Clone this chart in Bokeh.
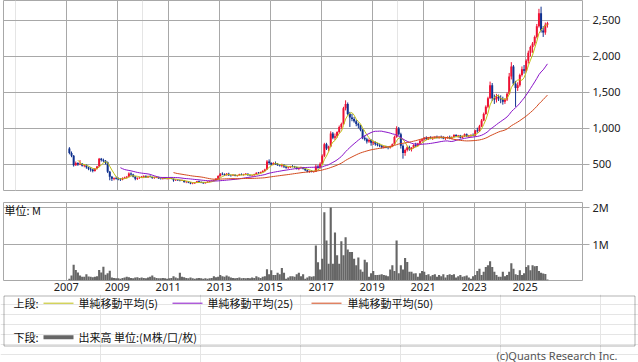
import numpy as np
import pandas as pd
from bokeh.plotting import figure
from bokeh.models import Range1d, FixedTicker, Grid, NumeralTickFormatter, Label, BoxAnnotation
from bokeh.layouts import column
from bokeh.core.properties import value
from bokeh.embed import file_html
from bokeh.resources import INLINE

# ---------------- data (monthly, Feb 2007 .. Nov 2025) ----------------
first_month = "2007-02-01"
year_ticks = [2007, 2009, 2011, 2013, 2015, 2017, 2019, 2021, 2023, 2025]
price_ticks = [500, 1000, 1500, 2000, 2500]
volume_ticks = [1, 2]
volume_tick_labels = {1: "1M", 2: "2M"}

open_ = [
    720, 660, 620, 490, 520, 500, 510, 480, 490, 460, 440,
    430, 410, 440, 470, 580, 560, 550, 530, 400, 330, 300, 310,
    300, 295, 290, 310, 320, 330, 375, 360, 330, 300, 310, 320,
    330, 340, 320, 335, 325, 310, 320, 325, 305, 300, 310, 300,
    305, 310, 300, 280, 285, 280, 275, 280, 255, 260, 250, 235,
    240, 250, 265, 255, 250, 240, 250, 260, 270, 275, 285, 300,
    340, 370, 365, 350, 370, 350, 345, 355, 340, 350, 365, 355,
    360, 370, 350, 345, 350, 365, 385, 380, 395, 410, 430, 540,
    520, 500, 520, 505, 490, 480, 495, 470, 455, 460, 475, 470,
    465, 445, 450, 460, 440, 420, 400, 410, 395, 400, 470, 450,
    510, 620, 780, 720, 750, 930, 870, 890, 950, 1020, 1060, 1280,
    1340, 1200, 1150, 1130, 1100, 1060, 1040, 980, 870, 850, 820, 840,
    800, 810, 780, 770, 760, 740, 750, 735, 730, 750, 780, 880,
    1000, 920, 760, 660, 700, 740, 710, 730, 770, 760, 790, 830,
    850, 870, 850, 870, 860, 870, 880, 870, 880, 870, 860, 870,
    880, 860, 880, 910, 890, 900, 870, 890, 920, 890, 900, 910,
    900, 970, 960, 1030, 1110, 1200, 1300, 1420, 1600, 1420, 1400, 1440,
    1420, 1400, 1370, 1400, 1480, 1720, 1860, 1620, 1560, 1600, 1740, 1820,
    1800, 1940, 2050, 2130, 2180, 2270, 2420, 2600, 2360, 2330, 2440,
]
high = [
    740, 680, 630, 540, 530, 560, 520, 500, 500, 470, 460,
    440, 450, 480, 590, 590, 580, 560, 540, 410, 340, 320, 330,
    320, 310, 320, 330, 340, 390, 390, 370, 340, 320, 330, 340,
    350, 350, 345, 350, 330, 330, 335, 330, 315, 315, 325, 315,
    320, 320, 305, 295, 295, 290, 290, 285, 270, 265, 255, 250,
    255, 270, 275, 265, 255, 255, 265, 275, 280, 290, 310, 350,
    380, 390, 375, 380, 385, 360, 365, 360, 355, 370, 375, 370,
    380, 375, 360, 355, 370, 390, 395, 400, 420, 440, 560, 570,
    530, 530, 540, 520, 505, 510, 500, 480, 470, 480, 490, 480,
    470, 460, 470, 465, 450, 430, 415, 420, 410, 500, 490, 530,
    640, 800, 800, 760, 960, 950, 930, 960, 1040, 1080, 1300, 1390,
    1360, 1230, 1200, 1160, 1120, 1080, 1050, 990, 900, 870, 860, 850,
    830, 820, 800, 790, 770, 760, 760, 750, 760, 790, 900, 1030,
    1020, 940, 780, 720, 760, 760, 740, 780, 800, 800, 840, 860,
    880, 890, 880, 890, 880, 890, 900, 890, 900, 890, 880, 890,
    900, 890, 920, 920, 910, 910, 900, 930, 930, 910, 920, 930,
    980, 1010, 1050, 1130, 1220, 1320, 1440, 1650, 1630, 1470, 1480, 1470,
    1460, 1440, 1420, 1500, 1770, 1920, 1880, 1660, 1640, 1760, 1860, 1880,
    1960, 2080, 2150, 2200, 2290, 2450, 2660, 2690, 2420, 2470, 2480,
]
low = [
    640, 600, 470, 480, 480, 490, 470, 460, 440, 420, 400,
    390, 400, 430, 460, 540, 530, 500, 380, 280, 270, 280, 290,
    280, 270, 280, 300, 305, 320, 340, 320, 280, 285, 300, 310,
    310, 315, 315, 320, 300, 300, 310, 300, 290, 290, 295, 290,
    295, 295, 260, 270, 270, 265, 270, 245, 240, 240, 225, 225,
    230, 245, 250, 240, 230, 235, 245, 250, 260, 265, 280, 295,
    330, 350, 340, 345, 340, 330, 340, 335, 330, 345, 350, 345,
    350, 345, 335, 330, 345, 360, 370, 375, 385, 400, 425, 500,
    490, 490, 495, 480, 470, 460, 450, 440, 440, 450, 460, 450,
    430, 420, 440, 430, 410, 390, 385, 390, 385, 395, 440, 440,
    500, 600, 700, 680, 740, 850, 840, 870, 930, 990, 1050, 1250,
    1180, 1020, 1100, 1080, 1030, 1000, 960, 850, 830, 790, 800, 760,
    770, 760, 750, 740, 720, 720, 725, 710, 720, 740, 770, 870,
    900, 720, 580, 620, 680, 690, 680, 720, 740, 750, 780, 810,
    830, 840, 840, 850, 840, 855, 860, 855, 860, 850, 840, 855,
    850, 850, 870, 880, 870, 860, 860, 880, 880, 870, 880, 890,
    890, 940, 950, 1020, 1100, 1190, 1280, 1410, 1380, 1340, 1360, 1380,
    1350, 1330, 1340, 1380, 1470, 1680, 1600, 1300, 1520, 1580, 1720, 1760,
    1780, 1900, 2000, 2050, 2150, 2250, 2400, 2330, 2270, 2300, 2400,
]
close = [
    660, 620, 490, 520, 500, 510, 480, 490, 460, 440, 430,
    410, 440, 470, 580, 560, 550, 530, 400, 330, 300, 310, 300,
    295, 290, 310, 320, 330, 375, 360, 330, 300, 310, 320, 330,
    340, 320, 335, 325, 310, 320, 325, 305, 300, 310, 300, 305,
    310, 300, 280, 285, 280, 275, 280, 255, 260, 250, 235, 240,
    250, 265, 255, 250, 240, 250, 260, 270, 275, 285, 300, 340,
    370, 365, 350, 370, 350, 345, 355, 340, 350, 365, 355, 360,
    370, 350, 345, 350, 365, 385, 380, 395, 410, 430, 540, 520,
    500, 520, 505, 490, 480, 495, 470, 455, 460, 475, 470, 465,
    445, 450, 460, 440, 420, 400, 410, 395, 400, 470, 450, 510,
    620, 780, 720, 750, 930, 870, 890, 950, 1020, 1060, 1280, 1340,
    1200, 1150, 1130, 1100, 1060, 1040, 980, 870, 850, 820, 840, 800,
    810, 780, 770, 760, 740, 750, 735, 730, 750, 780, 880, 1000,
    920, 760, 660, 700, 740, 710, 730, 770, 760, 790, 830, 850,
    870, 850, 870, 860, 870, 880, 870, 880, 870, 860, 870, 880,
    860, 880, 910, 890, 900, 870, 890, 920, 890, 900, 910, 900,
    970, 960, 1030, 1110, 1200, 1300, 1420, 1600, 1420, 1400, 1440, 1420,
    1400, 1370, 1400, 1480, 1720, 1860, 1620, 1560, 1600, 1740, 1820, 1800,
    1940, 2050, 2130, 2180, 2270, 2420, 2600, 2360, 2330, 2440, 2460,
]
volume_m = [
    0.05, 0.14, 0.43, 0.29, 0.22, 0.14, 0.10, 0.10, 0.17, 0.11, 0.10,
    0.09, 0.10, 0.12, 0.29, 0.22, 0.38, 0.16, 0.20, 0.27, 0.08, 0.07, 0.06,
    0.06, 0.05, 0.07, 0.08, 0.10, 0.09, 0.07, 0.06, 0.08, 0.09, 0.07, 0.08,
    0.07, 0.06, 0.08, 0.10, 0.14, 0.09, 0.07, 0.06, 0.06, 0.07, 0.06, 0.05,
    0.06, 0.07, 0.12, 0.08, 0.06, 0.21, 0.10, 0.09, 0.07, 0.06, 0.08, 0.06,
    0.05, 0.06, 0.07, 0.06, 0.05, 0.06, 0.05, 0.06, 0.07, 0.12, 0.09, 0.10,
    0.15, 0.12, 0.10, 0.14, 0.11, 0.08, 0.07, 0.06, 0.07, 0.08, 0.06, 0.07,
    0.06, 0.07, 0.06, 0.08, 0.07, 0.12, 0.09, 0.07, 0.10, 0.12, 0.31, 0.17,
    0.28, 0.15, 0.15, 0.21, 0.17, 0.34, 0.21, 0.05, 0.08, 0.12, 0.12, 0.10,
    0.17, 0.21, 0.12, 0.17, 0.05, 0.08, 0.12, 0.10, 0.12, 0.96, 0.50, 0.30,
    0.60, 1.87, 1.10, 0.46, 2.00, 0.46, 1.32, 0.69, 0.46, 1.08, 0.69, 1.19,
    0.85, 0.78, 0.78, 0.60, 0.42, 0.63, 0.30, 0.24, 0.57, 0.50, 0.10, 0.20,
    0.26, 0.15, 0.15, 0.16, 0.17, 0.15, 0.14, 0.12, 0.30, 0.42, 0.26, 1.10,
    0.20, 0.42, 0.30, 0.62, 0.51, 0.24, 0.24, 0.19, 0.20, 0.10, 0.20, 0.26,
    0.24, 0.15, 0.17, 0.12, 0.15, 0.17, 0.10, 0.15, 0.12, 0.17, 0.08, 0.15,
    0.17, 0.15, 0.17, 0.08, 0.12, 0.15, 0.10, 0.12, 0.14, 0.08, 0.05, 0.12,
    0.15, 0.26, 0.32, 0.15, 0.24, 0.37, 0.42, 0.53, 0.37, 0.24, 0.15, 0.10,
    0.10, 0.24, 0.12, 0.15, 0.24, 0.47, 0.32, 0.17, 0.15, 0.28, 0.15, 0.20,
    0.37, 0.42, 0.28, 0.42, 0.39, 0.40, 0.26, 0.21, 0.19, 0.18, 0.03,
]
ma_periods = [5, 25, 50]

n = len(close)
assert len(open_) == n and len(high) == n and len(low) == n and len(volume_m) == n

# ---------------- derived ----------------
months = pd.date_range(first_month, periods=n, freq="MS")
t = np.asarray(months.year + (months.month - 0.5) / 12.0, dtype=float)
o = np.array(open_, float)
c = np.array(close, float)
UP, DOWN = "#ee1133", "#10318f"
colors = [UP if cc >= oo else DOWN for oo, cc in zip(o, c)]
ma = {k: pd.Series(c).rolling(k).mean().to_numpy() for k in ma_periods}
ma_colors = {5: "#bfbf14", 25: "#8a14c8", 50: "#d24a1e"}

GRID = "#a8a8a8"
FONT = "Noto Sans"
JFONT = "Noto Sans CJK JP"
xr = Range1d(2004.54, 2027.25)
LB, RB = 3, 56

# ---------------- price ----------------
p1 = figure(width=638, height=191, x_range=xr, y_range=Range1d(138, 2776),
            output_backend="svg", toolbar_location=None,
            x_axis_location=None, y_axis_location="right",
            min_border_left=LB, min_border_right=RB, min_border_top=0, min_border_bottom=1)
p1.outline_line_color = GRID
ya = p1.yaxis[0]
ya.ticker = FixedTicker(ticks=price_ticks)
ya.formatter = NumeralTickFormatter(format="0,0")
ya.axis_line_color = None
ya.major_tick_in = 0
ya.major_tick_out = 7
ya.major_tick_line_color = GRID
ya.minor_tick_line_color = None
ya.major_label_text_font = FONT
ya.major_label_text_font_size = "11px"
ya.major_label_text_color = "#222222"
ya.major_label_standoff = 3
p1.ygrid.grid_line_color = GRID
p1.add_layout(Grid(dimension=0, ticker=FixedTicker(ticks=year_ticks), grid_line_color=GRID))

p1.segment(x0=t, y0=low, x1=t, y1=high, line_color=colors, line_width=1)
p1.vbar(x=t, width=0.078, top=np.maximum(o, c), bottom=np.minimum(o, c),
        fill_color=colors, line_color=None)
for k in ma_periods:
    p1.line(t, ma[k], line_color=ma_colors[k], line_width=1)

# ---------------- volume ----------------
p2 = figure(width=638, height=103, x_range=xr, y_range=Range1d(0, 2.14),
            output_backend="svg", toolbar_location=None, y_axis_location="right",
            min_border_left=LB, min_border_right=RB, min_border_top=11, min_border_bottom=14)
p2.outline_line_color = GRID
va = p2.yaxis[0]
va.ticker = FixedTicker(ticks=volume_ticks)
va.major_label_overrides = volume_tick_labels
va.axis_line_color = None
va.major_tick_in = 0
va.major_tick_out = 7
va.major_tick_line_color = GRID
va.minor_tick_line_color = None
va.major_label_text_font = FONT
va.major_label_text_font_size = "11px"
va.major_label_text_color = "#222222"
va.major_label_standoff = 3
xa = p2.xaxis[0]
xa.ticker = FixedTicker(ticks=year_ticks)
xa.axis_line_color = None
xa.major_tick_in = 0
xa.major_tick_out = 0
xa.minor_tick_line_color = None
xa.major_label_text_font = FONT
xa.major_label_text_font_size = "11px"
xa.major_label_text_color = "#222222"
xa.major_label_standoff = 2
p2.xgrid.grid_line_color = GRID
p2.ygrid.grid_line_color = GRID
p2.vbar(x=t, width=1 / 12, top=volume_m, bottom=0, fill_color="#666666", line_color=None)
p2.add_layout(Label(x=xr.start + 1.0 / 25.5, y=1.945, text="単位: M", text_font=JFONT,
                    text_font_size="11px", text_baseline="middle", text_color="#111111"))

# ---------------- legend: its own root, coordinates = page pixels ----------------
p3 = figure(width=638, height=68, x_range=Range1d(0, 638), y_range=Range1d(68, 0),
            output_backend="svg", toolbar_location=None,
            x_axis_location=None, y_axis_location=None,
            min_border_left=0, min_border_right=0, min_border_top=0, min_border_bottom=0)
p3.outline_line_color = None
p3.add_layout(BoxAnnotation(left=3.5, right=634.5, top=1.5, bottom=51.5,
                            fill_alpha=0, line_color="#000000", line_width=1))
row1, row2 = 8.7, 42.7
p3.segment(x0=[43, 172, 311], y0=[row1] * 3, x1=[73, 202, 341], y1=[row1] * 3,
           line_color=[ma_colors[5], ma_colors[25], ma_colors[50]], line_width=1)
p3.segment(x0=[43], y0=[row2], x1=[73], y1=[row2], line_color="#666666", line_width=4)
p3.text(x=[13, 78, 207, 347, 13, 78],
        y=[row1, row1, row1, row1, row2, row2],
        text=["上段:", "単純移動平均(5)", "単純移動平均(25)", "単純移動平均(50)",
              "下段:", "出来高 単位:(M株/口/枚)"],
        text_font=value(JFONT), text_font_size="11px", text_baseline="middle",
        text_color="#111111")
p3.add_layout(Label(x=617, y=60.5, text="(c)Quants Research Inc.", text_font=FONT,
                    text_font_size="11px", text_align="right", text_baseline="middle",
                    text_color="#555555"))

charts = column(p1, p2, spacing=0)
open("out.html", "w").write(file_html([charts, p3], INLINE))
